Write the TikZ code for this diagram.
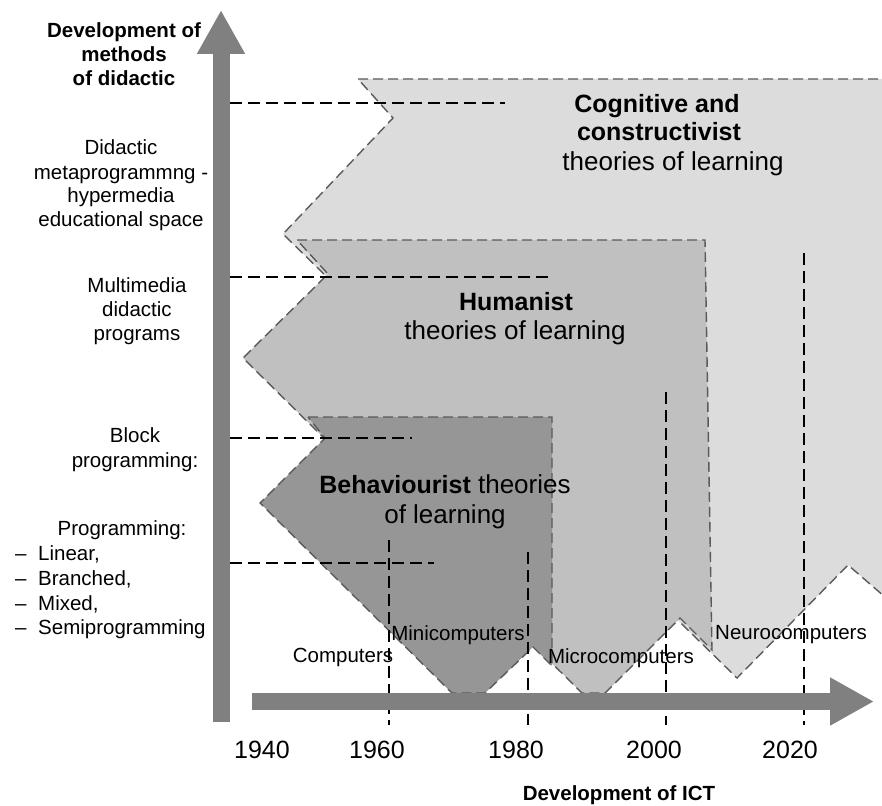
\documentclass[tikz,border=0pt]{standalone}
\usepackage{fontspec}
\setmainfont{Liberation Sans}
\usepackage{xcolor}
\usepackage{tikz}
\usetikzlibrary{arrows.meta}

\definecolor{cogfill}{HTML}{DCDCDC}
\definecolor{humfill}{HTML}{C0C0C0}
\definecolor{behfill}{HTML}{969696}
\definecolor{axisgray}{HTML}{808080}
\definecolor{edgegray}{HTML}{5A5A5A}

\newcommand{\fsz}[1]{\fontsize{#1}{#1}\selectfont}

\tikzset{
    theory/.style={draw=edgegray, line width=1.4pt, dash pattern=on 10pt off 5pt},
    guide/.style={draw=black, line width=1.4pt, dash pattern=on 12pt off 6pt},
    axisbar/.style={draw=axisgray, line width=17pt, -{Triangle[length=44pt,width=45pt]}},
    lbl/.style={font=\fsz{20.5}, inner sep=0pt, anchor=base},
    head/.style={lbl, font=\bfseries\fsz{20.5}},
    title/.style={lbl, font=\bfseries\fsz{25}},
    theo/.style={lbl, font=\fsz{26}},
    yearlbl/.style={lbl, font=\fsz{25}}
}

\begin{document}
\begin{tikzpicture}[x=1pt, y=-1pt]
    \fill[white] (0,0) rectangle (882,805);
    \useasboundingbox (0,0) rectangle (882,805);

    % theories of learning, back to front
    \filldraw[theory, fill=cogfill] (358,79) -- (885,79) -- (885,597) -- (848,565) -- (737,678)
        -- (283,234) -- (393,118) -- cycle;
    \filldraw[theory, fill=humfill] (297,240) -- (705,240) -- (712,650) -- (680,618) -- (605,693)
        -- (582,693) -- (243,358) -- (328,274) -- cycle;
    \filldraw[theory, fill=behfill] (308,417) -- (552,417) -- (552,666) -- (533,647) -- (485,693)
        -- (452,693) -- (260,503) -- (325,438) -- cycle;

    % guide lines
    \foreach \y/\x in {103/505, 277/550, 438/412, 563/434} {
        \coordinate (gl\y) at (230,\y);
        \coordinate (gr\y) at (\x,\y);
        \draw[guide] (gl\y) -- (gr\y);
    }
    \foreach \x/\y in {389/540, 528/552, 666/392, 804/253} {
        \coordinate (gt\x) at (\x,\y);
        \coordinate (gb\x) at (\x,725);
        \draw[guide] (gt\x) -- (gb\x);
    }

    % axes
    \coordinate (vfoot) at (221,722);
    \coordinate (vtip) at (221,10);
    \coordinate (hfoot) at (252,701.5);
    \coordinate (htip) at (874,701.5);
    \draw[axisbar] (vfoot) -- (vtip);
    \draw[axisbar] (hfoot) -- (htip);

    % methods of didactic
    \foreach \t/\y [count=\k] in {Development of/38, methods/62, of didactic/86}
        \node[head] (dev\k) at (124,\y) {\t};
    \foreach \t/\y [count=\k] in {Didactic/155, metaprogrammng -/179, hypermedia/202, educational space/226}
        \node[lbl] (meta\k) at (121,\y) {\t};
    \foreach \t/\y [count=\k] in {Multimedia/292, didactic/316, programs/340}
        \node[lbl] (multi\k) at (137,\y) {\t};
    \foreach \t/\y [count=\k] in {Block/442, programming:/467}
        \node[lbl] (block\k) at (135,\y) {\t};
    \node[lbl] (prog) at (122,535) {Programming:};
    \foreach \t/\y [count=\k] in {{Linear,}/560, {Branched,}/585, {Mixed,}/610, Semiprogramming/634} {
        \node[lbl, anchor=base west] (dash\k) at (15,\y) {--};
        \node[lbl, anchor=base west] (kind\k) at (38,\y) {\t};
    }

    % theories
    \node[title] (cog1) at (657,113) {Cognitive and};
    \node[title] (cog2) at (659,141) {constructivist};
    \node[theo] (cog3) at (673,170) {theories of learning};
    \node[title] (hum1) at (516,310) {Humanist};
    \node[theo] (hum2) at (515,339) {theories of learning};
    \node[theo] (beh1) at (445,493) {{\bfseries\fsz{25}Behaviourist} theories};
    \node[theo] (beh2) at (445,523) {of learning};

    % computers
    \node[lbl] (comp) at (343,662) {Computers};
    \node[lbl] (mini) at (458,640) {Minicomputers};
    \node[lbl] (micro) at (621,663) {Microcomputers};
    \node[lbl] (neuro) at (791,639) {Neurocomputers};

    % development of ICT
    \foreach \yr/\x in {1940/262, 1960/377, 1980/516, 2000/654, 2020/790}
        \node[yearlbl] (yr\yr) at (\x,758) {\yr};
    \node[head] (ict) at (619,800) {Development of ICT};
\end{tikzpicture}
\end{document}
